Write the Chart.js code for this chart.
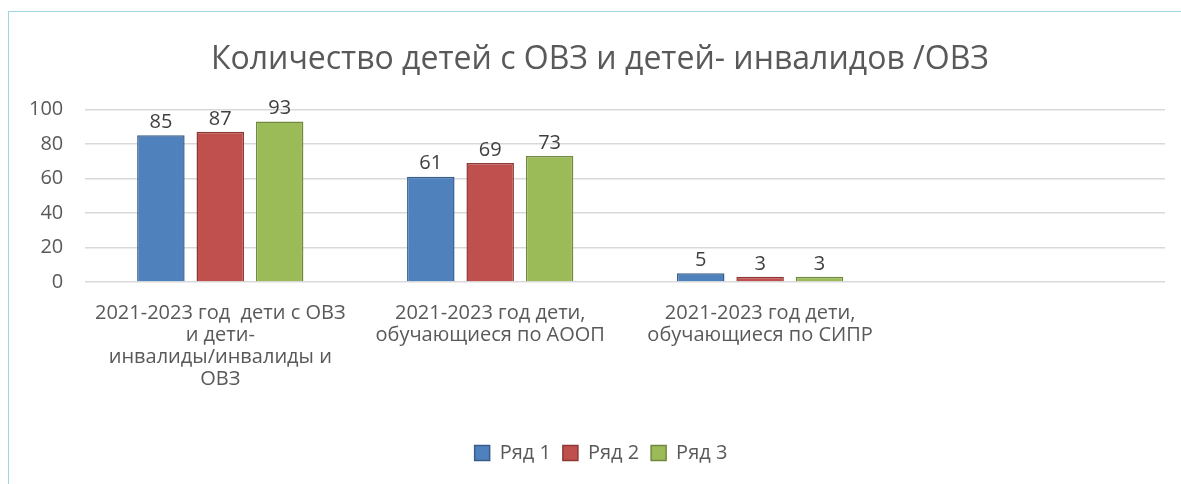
<!DOCTYPE html>
<html>
<head>
<meta charset="utf-8">
<script src="https://cdn.jsdelivr.net/npm/chart.js@4/dist/chart.umd.min.js"></script>
<style>
  html, body { margin: 0; padding: 0; background: #fff; }
  #wrap { position: absolute; left: 0; top: 0; width: 1181px; height: 484px; }
  #frame { position: absolute; left: 8px; top: 11px; width: 1200px; height: 500px; border: 1.5px solid #9fd4e2; box-sizing: border-box; }
</style>
</head>
<body>
<div id="wrap">
  <div id="frame"></div>
  <canvas id="chart" width="1181" height="484"></canvas>
</div>
<script>
const categories = [
  ["2021-2023 год  дети с ОВЗ", "и дети-", "инвалиды/инвалиды и", "ОВЗ"],
  ["2021-2023 год дети,", "обучающиеся по АООП"],
  ["2021-2023 год дети,", "обучающиеся по СИПР"],
  ""
];
const seriesNames = ["Ряд 1", "Ряд 2", "Ряд 3"];
const row1 = [85, 61, 5, null];
const row2 = [87, 69, 3, null];
const row3 = [93, 73, 3, null];
const yTicks = [0, 20, 40, 60, 80, 100];

const fills = ["#4f81bd", "#c0504d", "#9bbb59"];
const edges = ["#385d8a", "#8c3836", "#71893f"];
const FONT = "'Open Sans', 'Noto Sans', sans-serif";

// value labels above bars
const valueLabels = {
  id: "valueLabels",
  afterDatasetsDraw(chart) {
    const ctx = chart.ctx;
    ctx.save();
    ctx.font = "20px " + FONT;
    ctx.fillStyle = "#404040";
    ctx.textAlign = "center";
    ctx.textBaseline = "bottom";
    chart.data.datasets.forEach((ds, i) => {
      chart.getDatasetMeta(i).data.forEach((bar, j) => {
        if (ds.data[j] == null) return;
        ctx.fillText(ds.data[j], bar.x, bar.y - 3);
      });
    });
    ctx.restore();
  }
};

// nudge title and legend a little right, like the original
const blockShift = {
  id: "blockShift",
  afterLayout(chart) {
    chart.legend.left += 15;
    chart.legend.right += 15;
    chart.titleBlock.left += 14;
    chart.titleBlock.right += 14;
  }
};

const datasets = [row1, row2, row3].map((d, i) => ({
  label: seriesNames[i],
  data: d,
  backgroundColor: fills[i],
  borderColor: edges[i],
  borderWidth: 1.5,
  categoryPercentage: 0.66,
  barPercentage: 0.8
}));

new Chart(document.getElementById("chart"), {
  type: "bar",
  data: { labels: categories, datasets },
  plugins: [valueLabels, blockShift],
  options: {
    responsive: false,
    animation: false,
    layout: { padding: { left: 7, right: 16, top: 41, bottom: 11 } },
    plugins: {
      title: {
        display: true,
        text: "Количество детей с ОВЗ и детей- инвалидов /ОВЗ",
        color: "#595959",
        font: { family: FONT, size: 32, weight: "normal" },
        padding: { top: 0, bottom: 30 }
      },
      legend: {
        position: "bottom",
        labels: {
          color: "#595959",
          font: { family: FONT, size: 20 },
          boxWidth: 15,
          boxHeight: 15,
          padding: 12
        }
      },
      tooltip: { enabled: false }
    },
    scales: {
      y: {
        min: 0,
        max: 100,
        afterBuildTicks: (s) => { s.ticks = yTicks.map(v => ({ value: v })); },
        grid: { color: "#d9d9d9", lineWidth: 1.5, drawTicks: false },
        border: { display: false },
        ticks: { color: "#595959", font: { family: FONT, size: 20 }, padding: 22 }
      },
      x: {
        afterFit: (s) => { s.height = 149; },
        grid: { display: false },
        border: { display: false },
        ticks: {
          color: "#595959",
          font: { family: FONT, size: 20, lineHeight: 1.1 },
          padding: 12,
          maxRotation: 0,
          autoSkip: false
        }
      }
    }
  }
});
</script>
</body>
</html>
